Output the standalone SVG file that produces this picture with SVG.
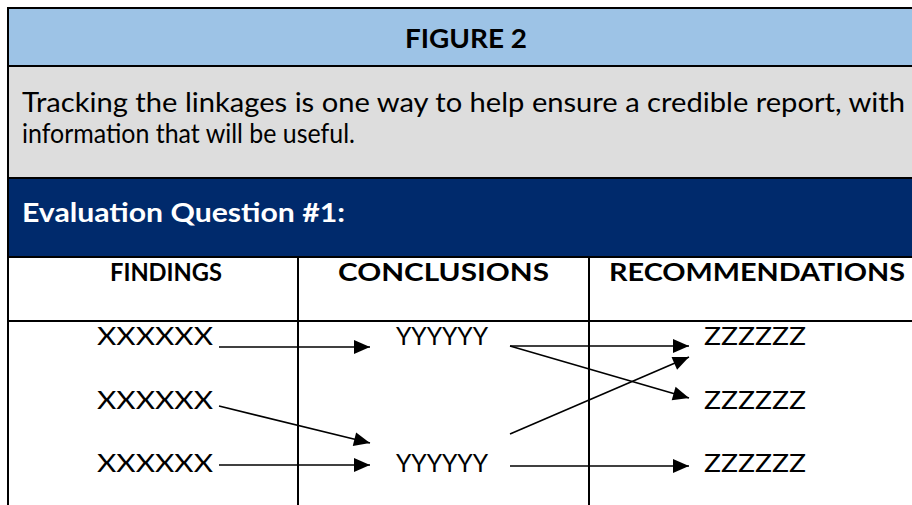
<svg xmlns="http://www.w3.org/2000/svg" width="912" height="505" viewBox="0 0 912 505">
<style>
.f{font-family:Lato,"Open Sans","Liberation Sans",sans-serif;}
.b{font-weight:bold;}
.cell{font-family:Lato,"Liberation Sans",sans-serif;font-size:25px;fill:#000;}
.hdr{font-family:Lato,"Liberation Sans",sans-serif;font-size:25px;font-weight:bold;fill:#000;}
.bl{stroke:#000;stroke-width:2;fill:none;}
.arr{stroke:#000;stroke-width:1.6;fill:none;marker-end:url(#ah);}
</style>
<defs>
<marker id="ah" markerUnits="userSpaceOnUse" markerWidth="17" markerHeight="15" refX="16" refY="7" orient="auto" overflow="visible">
<path d="M0,0 L16,7 L0,14 Z" fill="#000"/>
</marker>
</defs>
<rect width="912" height="505" fill="#ffffff"/>
<g id="title">
<rect x="8" y="8" width="920" height="58" fill="#9DC3E6"/>
<text x="466" y="48" text-anchor="middle" class="f b" font-size="26" textLength="122" lengthAdjust="spacingAndGlyphs">FIGURE 2</text>
</g>
<g id="intro">
<rect x="8" y="66" width="920" height="112" fill="#DDDDDD"/>
<text x="22" y="112" class="f" font-size="26" textLength="883" lengthAdjust="spacingAndGlyphs">Tracking the linkages is one way to help ensure a credible report, with</text>
<text x="22" y="143" class="f" font-size="26" textLength="333" lengthAdjust="spacingAndGlyphs">information that will be useful.</text>
</g>
<g id="question">
<rect x="8" y="178" width="920" height="79" fill="#002A6C"/>
<text x="22" y="222" class="f b" font-size="26" fill="#ffffff" textLength="323" lengthAdjust="spacingAndGlyphs">Evaluation Question #1:</text>
</g>
<g id="frame">
<line class="bl" x1="8" y1="8" x2="912" y2="8"/>
<line class="bl" x1="8" y1="66" x2="912" y2="66"/>
<line class="bl" x1="8" y1="178" x2="912" y2="178"/>
<line class="bl" x1="8" y1="257" x2="912" y2="257"/>
<line class="bl" x1="8" y1="321" x2="912" y2="321"/>
<line class="bl" x1="8" y1="7" x2="8" y2="505"/>
<line class="bl" x1="298" y1="257" x2="298" y2="505"/>
<line class="bl" x1="589" y1="257" x2="589" y2="505"/>
</g>
<g id="headers">
<text x="166" y="281" text-anchor="middle" class="hdr" textLength="112" lengthAdjust="spacingAndGlyphs">FINDINGS</text>
<text x="443.5" y="281" text-anchor="middle" class="hdr" textLength="211" lengthAdjust="spacingAndGlyphs">CONCLUSIONS</text>
<text x="757" y="281" text-anchor="middle" class="hdr" textLength="296" lengthAdjust="spacingAndGlyphs">RECOMMENDATIONS</text>
</g>
<g id="findings">
<text x="97" y="345" class="cell" textLength="116" lengthAdjust="spacingAndGlyphs">XXXXXX</text>
<text x="97" y="409" class="cell" textLength="116" lengthAdjust="spacingAndGlyphs">XXXXXX</text>
<text x="97" y="472" class="cell" textLength="116" lengthAdjust="spacingAndGlyphs">XXXXXX</text>
</g>
<g id="conclusions">
<text x="396" y="345" class="cell" textLength="92" lengthAdjust="spacingAndGlyphs">YYYYYY</text>
<text x="396" y="472" class="cell" textLength="92" lengthAdjust="spacingAndGlyphs">YYYYYY</text>
</g>
<g id="recommendations">
<text x="704" y="345" class="cell" textLength="102" lengthAdjust="spacingAndGlyphs">ZZZZZZ</text>
<text x="704" y="409" class="cell" textLength="102" lengthAdjust="spacingAndGlyphs">ZZZZZZ</text>
<text x="704" y="472" class="cell" textLength="102" lengthAdjust="spacingAndGlyphs">ZZZZZZ</text>
</g>
<g id="connectors">
<line class="arr" x1="219" y1="347" x2="370" y2="347"/>
<line class="arr" x1="219" y1="406" x2="370" y2="443"/>
<line class="arr" x1="219" y1="465" x2="370" y2="465"/>
<line class="arr" x1="510" y1="346" x2="689" y2="346"/>
<line class="arr" x1="510" y1="346" x2="689" y2="398"/>
<line class="arr" x1="510" y1="434" x2="689" y2="357"/>
<line class="arr" x1="510" y1="466" x2="689" y2="466"/>
</g>
</svg>
